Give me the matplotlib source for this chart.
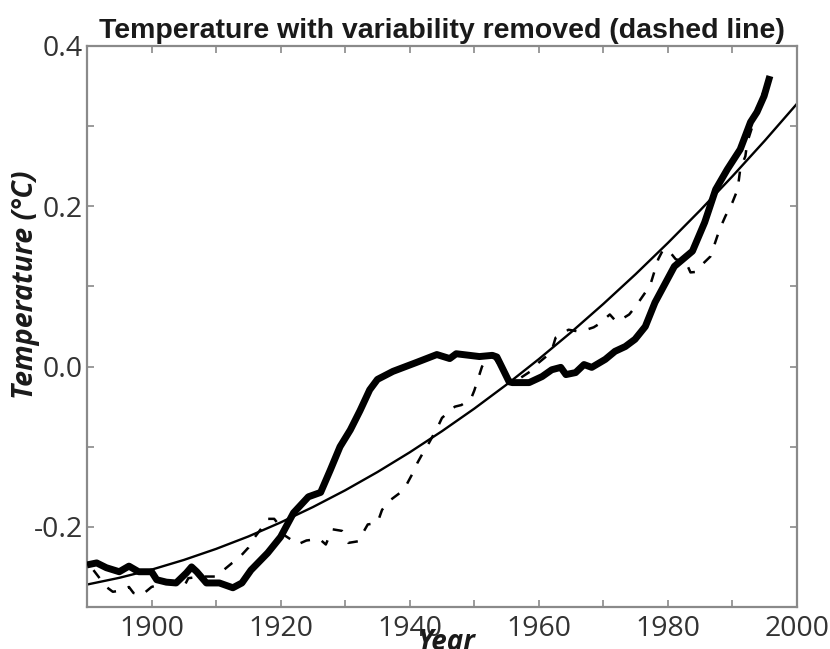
import matplotlib
matplotlib.use("Agg")
import matplotlib.pyplot as plt
from matplotlib.ticker import MultipleLocator, FixedLocator

# Observed temperature (thick line)
obs_years = [1890, 1891.5, 1893, 1895, 1896.5, 1898, 1900, 1900.8, 1902.3, 1903.8,
             1905.4, 1906.2, 1907, 1908.5, 1910.5, 1912.6, 1914, 1915.4, 1918, 1920,
             1922, 1924.3, 1926.2, 1927.7, 1929.2, 1930.8, 1932.3, 1933.8, 1935, 1937.4,
             1941, 1944.2, 1946.2, 1947.2, 1950.8, 1952.8, 1953.5, 1955.4, 1955.9, 1958.5,
             1960.5, 1962, 1963.4, 1964.2, 1965.7, 1967, 1968.2, 1970.3, 1971.8, 1973.4,
             1974.9, 1976.5, 1978, 1981, 1983.8, 1985.7, 1987.4, 1989.2, 1991.2, 1992.8,
             1993.8, 1994.9, 1995.8]
obs_temp = [-0.2475, -0.245, -0.251, -0.256, -0.249, -0.256, -0.256, -0.266, -0.269, -0.270,
            -0.2575, -0.250, -0.256, -0.270, -0.270, -0.276, -0.270, -0.254, -0.2325, -0.2125,
            -0.1825, -0.1625, -0.157, -0.129, -0.100, -0.079, -0.055, -0.029, -0.016, -0.006,
            0.005, 0.015, 0.010, 0.016, 0.0125, 0.014, 0.012, -0.019, -0.020, -0.020,
            -0.0125, -0.004, -0.001, -0.010, -0.0075, 0.0025, -0.001, 0.009, 0.019, 0.025,
            0.034, 0.050, 0.080, 0.125, 0.144, 0.180, 0.221, 0.246, 0.271, 0.305,
            0.3175, 0.3375, 0.3625]

# Temperature with variability removed (dashed line)
adj_years = [1891, 1893, 1894, 1895.7, 1896.5, 1897.2, 1898.5, 1900, 1902, 1904,
             1905, 1905.7, 1908, 1910, 1911, 1912.5, 1913.4, 1915, 1915.7, 1917.2,
             1918, 1919, 1920, 1920.5, 1922, 1922.6, 1924, 1926, 1927, 1928,
             1929.5, 1930.5, 1932, 1933.5, 1935, 1935.7, 1936.6, 1938.5, 1939.5, 1940.5,
             1941.2, 1942.3, 1943, 1944.3, 1945, 1947, 1948, 1949.5, 1950, 1950.8,
             1951.2, 1952, 1953, 1954, 1955, 1956, 1957, 1958.7, 1960, 1961.5,
             1962, 1962.6, 1963.5, 1964.6, 1966, 1967, 1968.5, 1969.2, 1971, 1972,
             1973, 1974, 1975, 1976.5, 1977.2, 1978, 1978.5, 1979.2, 1980, 1981.2,
             1982.8, 1983.5, 1984.2, 1985, 1986.6, 1988, 1988.9, 1990, 1990.8, 1991.2,
             1992, 1992.3, 1992.8, 1993.5, 1994, 1995, 1996]
adj_temp = [-0.254, -0.275, -0.281, -0.279, -0.275, -0.2825, -0.285, -0.275, -0.270, -0.272,
            -0.275, -0.264, -0.262, -0.262, -0.255, -0.245, -0.240, -0.226, -0.216, -0.200,
            -0.190, -0.190, -0.200, -0.210, -0.218, -0.222, -0.217, -0.215, -0.222, -0.203,
            -0.205, -0.220, -0.218, -0.197, -0.195, -0.179, -0.169, -0.1575, -0.1475, -0.1325,
            -0.120, -0.104, -0.095, -0.076, -0.064, -0.050, -0.048, -0.040, -0.030, -0.010,
            0.000, 0.010, 0.012, 0.000, -0.015, -0.020, -0.015, -0.006, 0.005, 0.015,
            0.020, 0.036, 0.040, 0.046, 0.044, 0.045, 0.049, 0.0525, 0.065, 0.056,
            0.060, 0.065, 0.075, 0.0925, 0.100, 0.121, 0.134, 0.145, 0.146, 0.134,
            0.130, 0.1175, 0.118, 0.125, 0.1375, 0.171, 0.1875, 0.205, 0.221, 0.246,
            0.2625, 0.280, 0.2925, 0.310, 0.330, 0.345, 0.360]

# Smooth trend curve (thin line)
fit_years = [1890, 1895, 1900, 1905, 1910, 1915, 1920, 1925, 1930, 1935, 1940, 1945,
             1950, 1955, 1960, 1965, 1970, 1975, 1980, 1985, 1990, 1995, 2000]
fit_temp = [-0.272, -0.2636, -0.2534, -0.2413, -0.2275, -0.2120, -0.1945, -0.1753,
            -0.1544, -0.1316, -0.1070, -0.0806, -0.0525, -0.0225, 0.0093, 0.0428,
            0.0782, 0.1153, 0.1543, 0.1950, 0.2375, 0.2818, 0.3280]

x_tick_labels = ["1900", "1920", "1940", "1960", "1980", "2000"]
y_tick_labels = ["-0.2", "0.0", "0.2", "0.4"]

title = "Temperature with variability removed (dashed line)"
xlabel = "Year"
ylabel = "Temperature (\u00b0C)"

fig = plt.figure(figsize=(8.3, 6.49), dpi=100)
ax = fig.add_axes([87 / 830, 1 - 607 / 649, (797 - 87) / 830, (607 - 46) / 649])

ax.plot(fit_years, fit_temp, color="black", lw=1.7, solid_capstyle="butt", zorder=2)
ax.plot(adj_years, adj_temp, color="black", lw=1.8, dashes=(4, 5), zorder=3)
ax.plot(obs_years, obs_temp, color="black", lw=5.0, solid_joinstyle="round",
        solid_capstyle="butt", zorder=4)

ax.set_xlim(1890, 2000)
ax.set_ylim(-0.3, 0.4)

ax.xaxis.set_minor_locator(MultipleLocator(10))
ax.xaxis.set_major_locator(FixedLocator([1900, 1920, 1940, 1960, 1980, 2000]))
ax.set_xticklabels(x_tick_labels)
ax.yaxis.set_minor_locator(MultipleLocator(0.1))
ax.yaxis.set_major_locator(FixedLocator([-0.2, 0.0, 0.2, 0.4]))
ax.set_yticklabels(y_tick_labels)

spine_col = "#8a8a8a"
for s in ax.spines.values():
    s.set_color(spine_col)
    s.set_linewidth(1.6)

ax.tick_params(which="both", direction="in", top=True, right=True,
               color=spine_col, width=1.2, length=5)
ax.tick_params(axis="x", which="major", pad=6, labelsize=20.5, labelcolor="#333333")
ax.tick_params(axis="y", which="major", pad=3, labelsize=20.5, labelcolor="#333333")
for lab in ax.get_xticklabels() + ax.get_yticklabels():
    lab.set_family(["Open Sans", "DejaVu Sans"])

ax.set_title(title, fontsize=20.5, fontweight="bold", family=["Liberation Sans", "DejaVu Sans"],
             color="#1a1a1a", pad=6)

fig.text(26 / 830, 1 - 285 / 649, ylabel, rotation=90, ha="center", va="center",
         fontsize=20.5, fontweight="bold", fontstyle="italic",
         family=["Open Sans", "DejaVu Sans"], color="#1a1a1a")
fig.text(446 / 830, 1 - 643 / 649, xlabel, ha="center", va="center",
         fontsize=20, fontweight="bold", fontstyle="italic",
         family=["Open Sans", "DejaVu Sans"], color="#1a1a1a")

fig.savefig("out.png", dpi=100)
